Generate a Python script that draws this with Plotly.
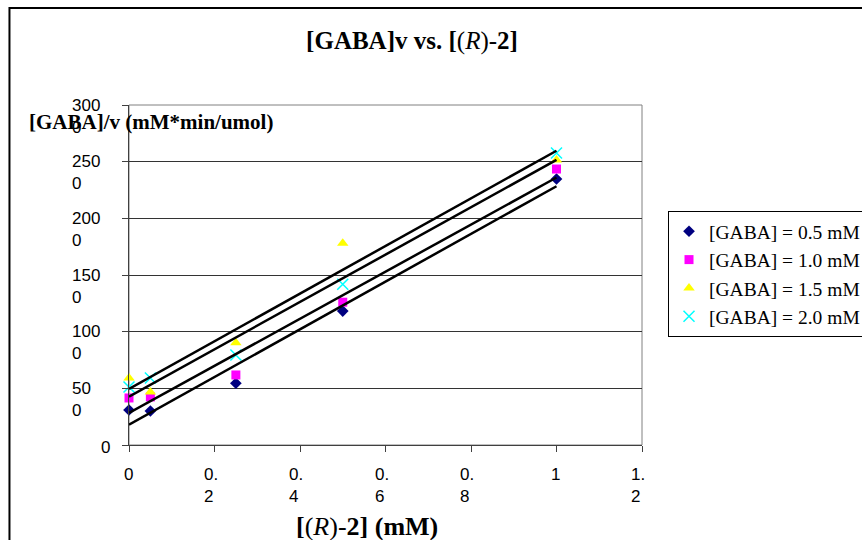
import numpy as np
import plotly.graph_objects as go

# ---------------- data ----------------
conc_r2 = [0, 0.05, 0.25, 0.5, 1.0]          # [(R)-2] (mM)
gaba_05 = [309, 300, 545, 1182, 2347]
gaba_10 = [415, 424, 618, 1260, 2435]
gaba_15 = [591, 468, 903, 1781, 2515]
gaba_20 = [512, 591, 794, 1419, 2577]

series_names = ["[GABA] = 0.5 mM", "[GABA] = 1.0 mM", "[GABA] = 1.5 mM", "[GABA] = 2.0 mM"]
series_vals = [gaba_05, gaba_10, gaba_15, gaba_20]
series_colors = ["#000080", "#FF00FF", "#FFFF00", "#00FFFF"]
series_symbols = ["diamond", "square", "triangle-up", "x-thin"]
series_sizes = [9, 9, 10, 11]

x_tick_vals = [0, 0.2, 0.4, 0.6, 0.8, 1.0, 1.2]
x_tick_text = ["0", "0.<br>2", "0.<br>4", "0.<br>6", "0.<br>8", "1", "1.<br>2"]
y_tick_vals = [0, 500, 1000, 1500, 2000, 2500, 3000]
y_tick_text = ["0", "50<br>0", "100<br>0", "150<br>0", "200<br>0", "250<br>0", "300<br>0"]

SERIF = "Liberation Serif, Times New Roman, serif"
SANS = "Liberation Sans, Arial, sans-serif"
TICKFONT = dict(family=SANS, size=17, color="black")

fig = go.Figure()

for name, vals, col, sym, sz in zip(series_names, series_vals, series_colors,
                                    series_symbols, series_sizes):
    marker = dict(symbol=sym, size=sz, color=col)
    if sym == "x-thin":
        marker["line"] = dict(color=col, width=1.5)
    else:
        marker["line"] = dict(width=0)
    fig.add_trace(go.Scatter(x=conc_r2, y=vals, mode="markers", name=name,
                             marker=marker, cliponaxis=False))

# trend lines (linear fits, drawn from x=0 to x=1)
for vals in series_vals:
    slope, intercept = np.polyfit(conc_r2, vals, 1)
    xs = [min(conc_r2), max(conc_r2)]
    ys = [intercept + slope * v for v in xs]
    fig.add_trace(go.Scatter(x=xs, y=ys, mode="lines",
                             line=dict(color="black", width=2.5),
                             showlegend=False, hoverinfo="skip"))

annotations = []
LINE_GAP = 22
# y tick labels (wrapped the way the original shows them)
for v, t in zip(y_tick_vals, y_tick_text):
    parts = t.split("<br>")
    if len(parts) == 1:
        annotations.append(dict(xref="paper", x=0, xanchor="right", xshift=-17,
                                yref="y", y=v, yanchor="middle", yshift=-2,
                                text=parts[0], showarrow=False, font=TICKFONT))
    else:
        for i, p in enumerate(parts):
            annotations.append(dict(xref="paper", x=0, xanchor="left", xshift=-59,
                                    yref="y", y=v, yanchor="middle",
                                    yshift=-i * LINE_GAP,
                                    text=p, showarrow=False, font=TICKFONT))
# x tick labels
for v, t in zip(x_tick_vals, x_tick_text):
    parts = t.split("<br>")
    if len(parts) == 1:
        annotations.append(dict(xref="x", x=v, xanchor="center", xshift=-1,
                                yref="paper", y=0, yanchor="middle", yshift=-29,
                                text=parts[0], showarrow=False, font=TICKFONT))
    else:
        for i, p in enumerate(parts):
            annotations.append(dict(xref="x", x=v, xanchor="left", xshift=-13,
                                    yref="paper", y=0, yanchor="middle",
                                    yshift=-29 - i * LINE_GAP,
                                    text=p, showarrow=False, font=TICKFONT))

# axis titles
annotations.append(dict(xref="paper", x=-0.199, xanchor="left",
                        yref="paper", y=0.95, yanchor="middle",
                        text="<b>[GABA]/v (mM*min/umol)</b>", showarrow=False,
                        font=dict(family=SERIF, size=21, color="black")))
annotations.append(dict(xref="paper", x=0.463, xanchor="center",
                        yref="paper", y=-0.241, yanchor="middle",
                        text="<b>[</b>(<i>R</i>)-<b>2] (mM)</b>", showarrow=False,
                        font=dict(family=SERIF, size=26, color="black")))

shapes = [
    # plot area border
    dict(type="rect", xref="paper", yref="paper", x0=0, x1=1, y0=0, y1=1,
         line=dict(color="#808080", width=1), layer="below"),
    # chart outer frame
    dict(type="rect", xref="paper", yref="paper", x0=-0.233, x1=1.5, y0=-0.4, y1=1.285,
         line=dict(color="black", width=2), layer="below"),
]

fig.update_layout(
    width=862, height=540,
    margin=dict(l=129, r=220, t=105, b=95, autoexpand=False),
    paper_bgcolor="white", plot_bgcolor="white",
    title=dict(text="<b>[GABA]v vs. [</b>(<i>R</i>)-<b>2]</b>",
               x=412 / 862, xanchor="center", xref="container",
               y=1 - 40 / 540, yanchor="middle", yref="container",
               font=dict(family=SERIF, size=25, color="black")),
    xaxis=dict(range=[0, 1.2], tickvals=x_tick_vals, showticklabels=False,
               ticks="outside", ticklen=6, tickcolor="#404040",
               showgrid=False, zeroline=False,
               showline=True, linecolor="#404040", linewidth=1),
    yaxis=dict(range=[0, 3000], tickvals=y_tick_vals, showticklabels=False,
               ticks="outside", ticklen=6, tickcolor="#404040",
               showgrid=True, gridcolor="#333333", gridwidth=1, zeroline=False,
               showline=True, linecolor="#404040", linewidth=1),
    legend=dict(x=1.0507, y=0.688, xanchor="left", yanchor="top",
                bordercolor="black", borderwidth=1, bgcolor="white",
                font=dict(family=SERIF, size=19.5, color="black"),
                itemwidth=30, tracegroupgap=0),
    annotations=annotations,
    shapes=shapes,
    showlegend=True,
)

fig.write_html("out.html")
